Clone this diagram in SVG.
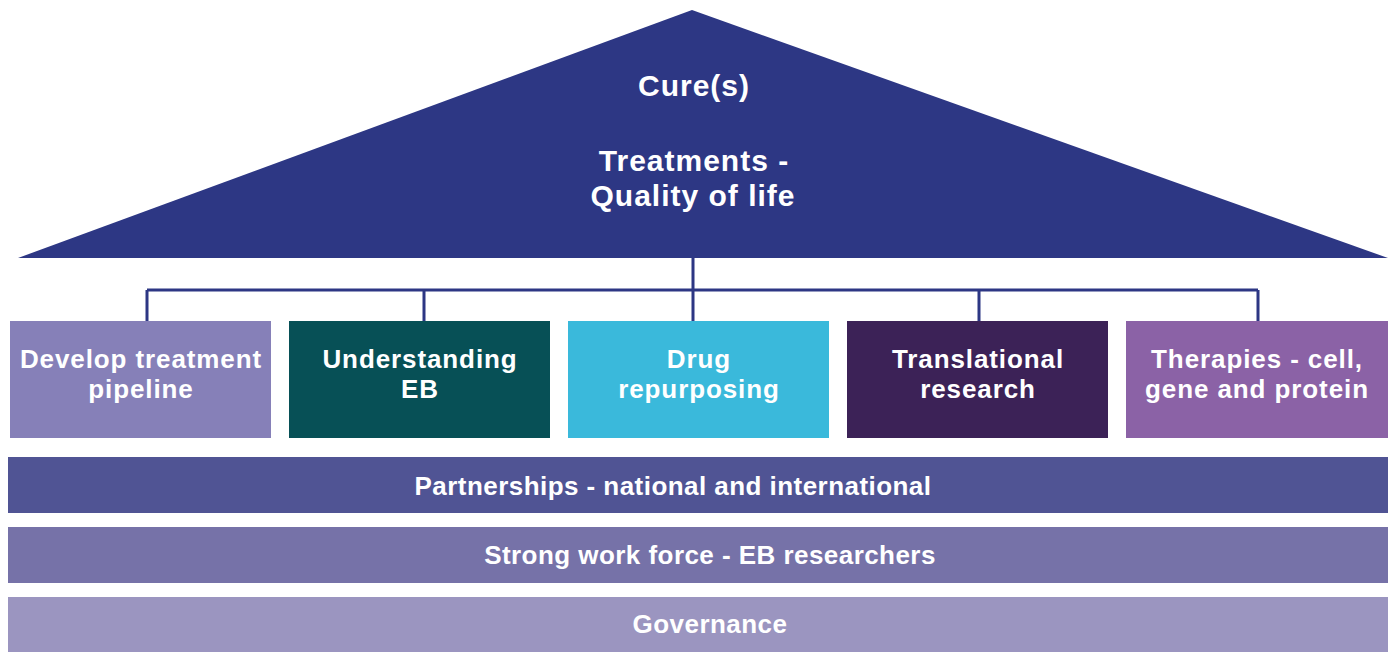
<svg xmlns="http://www.w3.org/2000/svg" width="1394" height="652" viewBox="0 0 1394 652">
  <style>
    text { font-family: "Liberation Sans", Arial, sans-serif; font-weight: 700; fill: #ffffff; text-anchor: middle; font-size: 26px; letter-spacing: 0.9px; }
    .big { font-size: 30px; letter-spacing: 1px; }
    .bar { letter-spacing: 0.45px; }
    .link { stroke: #2d3784; stroke-width: 3; fill: none; }
  </style>
  <rect width="1394" height="652" fill="#ffffff"/>

  <g id="roof">
    <polygon points="692,10 1388,258 18,258" fill="#2d3784"/>
    <text class="big" x="694" y="96">Cure(s)</text>
    <text class="big" y="171"><tspan x="694">Treatments -</tspan><tspan x="693" dy="35">Quality of life</tspan></text>
  </g>

  <g id="connectors">
    <path class="link" d="M693,258 V290 M147,290 H1258 M147,290 V321 M424,290 V321 M693,290 V321 M979,290 V321 M1258,290 V321"/>
  </g>

  <g id="pipeline">
    <rect x="10" y="321" width="261" height="117" fill="#8680b8"/>
    <text y="368"><tspan x="141">Develop treatment</tspan><tspan x="141" dy="30">pipeline</tspan></text>
  </g>
  <g id="understanding">
    <rect x="289" y="321" width="261" height="117" fill="#075056"/>
    <text y="368"><tspan x="420">Understanding</tspan><tspan x="420" dy="30">EB</tspan></text>
  </g>
  <g id="repurposing">
    <rect x="568" y="321" width="261" height="117" fill="#3ab9db"/>
    <text y="368"><tspan x="699">Drug</tspan><tspan x="699" dy="30">repurposing</tspan></text>
  </g>
  <g id="translational">
    <rect x="847" y="321" width="261" height="117" fill="#3c2257"/>
    <text y="368"><tspan x="978">Translational</tspan><tspan x="978" dy="30">research</tspan></text>
  </g>
  <g id="therapies">
    <rect x="1126" y="321" width="262" height="117" fill="#8b62a6"/>
    <text y="368"><tspan x="1257">Therapies - cell,</tspan><tspan x="1257" dy="30">gene and protein</tspan></text>
  </g>

  <g id="partnerships">
    <rect x="8" y="457" width="1380" height="56" fill="#505494"/>
    <text class="bar" x="673" y="495">Partnerships - national and international</text>
  </g>
  <g id="workforce">
    <rect x="8" y="527" width="1380" height="56" fill="#7672a8"/>
    <text class="bar" x="710" y="564">Strong work force - EB researchers</text>
  </g>
  <g id="governance">
    <rect x="8" y="597" width="1380" height="55" fill="#9b95c0"/>
    <text class="bar" x="710" y="633">Governance</text>
  </g>
</svg>
